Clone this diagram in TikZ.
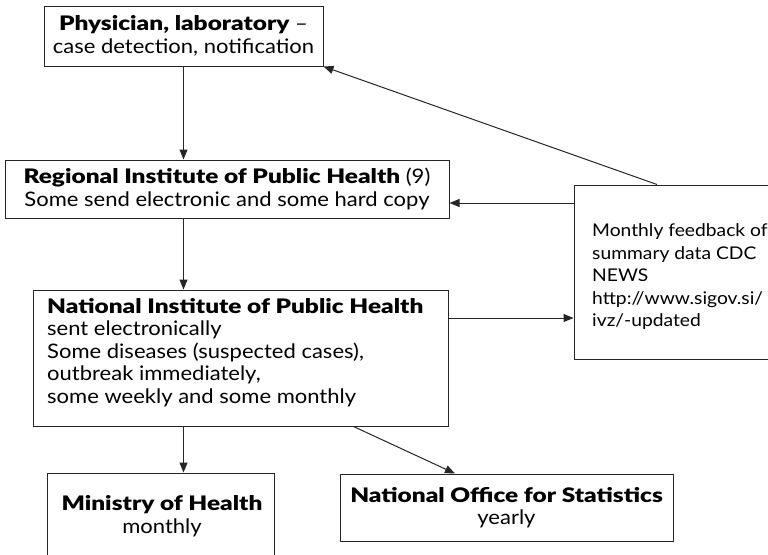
\documentclass[tikz,border=0pt]{standalone}
\usepackage{fontspec}
\setmainfont{Lato}[FakeStretch=1.1, BoldFont={Lato Black}, BoldFeatures={FakeStretch=1.22}]
\usetikzlibrary{arrows.meta}

\tikzset{
  box/.style={draw=black!85, line width=1pt, inner sep=0pt, align=center,
    font=\fontsize{20}{22.5}\selectfont},
  txt/.style={inner sep=0pt, font=\fontsize{20}{22.5}\selectfont},
  flow/.style={-{Triangle[length=10pt,width=8pt]}, line width=1pt, black!85},
}

\begin{document}
\begin{tikzpicture}[x=1pt,y=-1pt]
  \useasboundingbox (0,0) rectangle (768,554);
  % reporting chain
  \node[box, minimum width=279pt, minimum height=60pt] (phys) at (183.5,36)
    {\textbf{Physician, laboratory} --\\case detection, notification};
  \node[box, minimum width=444pt, minimum height=58pt] (reg) at (227,189)
    {\textbf{Regional Institute of Public Health} (9)\\Some send electronic and some hard copy};
  \node[box, minimum width=415pt, minimum height=136pt] (nat) at (240.5,358) {};
  \node[txt, align=left, anchor=west] (nattxt) at (47,352.5)
    {\textbf{National Institute of Public Health}\\sent electronically\\Some diseases (suspected cases),\\outbreak immediately,\\some weekly and some monthly};
  % receivers
  \node[box, minimum width=227pt, minimum height=97pt] (min) at (160.5,521.5) {};
  \node[txt, align=center] (mintxt) at (162,516) {\textbf{Ministry of Health}\\monthly};
  \node[box, minimum width=333pt, minimum height=67pt] (off) at (506.5,507.5)
    {\textbf{National Office for Statistics}\\yearly};
  % feedback
  \node[box, minimum width=216pt, minimum height=174pt] (fb) at (682,272) {};
  \node[txt, align=left, anchor=west, font=\fontsize{17.5}{22.5}\selectfont] (fbtxt) at (592,277)
    {Monthly feedback of\\summary data CDC\\NEWS\\http://www.sigov.si/\\ivz/-updated};
  % arrows down
  \draw[flow] (phys.south) -- (phys.south |- reg.north);
  \draw[flow] (phys.south |- reg.south) -- (phys.south |- nat.north);
  \draw[flow] (phys.south |- nat.south) -- (phys.south |- min.north);
  \draw[flow] ([xshift=113pt]nat.south) -- ([xshift=-51.5pt]off.north);
  % arrows to and from feedback
  \coordinate (natout) at ([yshift=40pt]nat.east);
  \draw[flow] (natout) -- (fb.west |- natout);
  \coordinate (regin) at ([yshift=-14pt]reg.east);
  \draw[flow] (fb.west |- regin) -- (regin);
  \draw[flow] ([xshift=-25pt]fb.north) -- (phys.south east);
\end{tikzpicture}
\end{document}
